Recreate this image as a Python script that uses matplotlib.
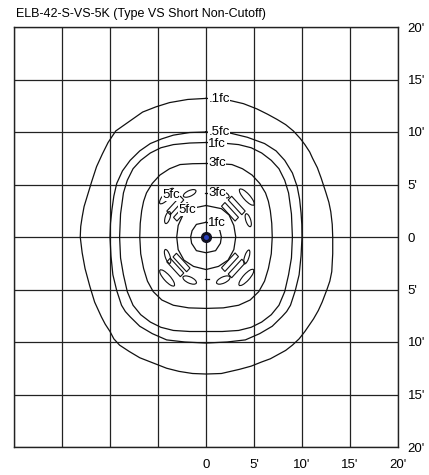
import matplotlib.pyplot as plt
from matplotlib.patches import Ellipse, Rectangle

plt.rcParams['font.family'] = ['Liberation Sans', 'DejaVu Sans']

TITLE = "ELB-42-S-VS-5K (Type VS Short Non-Cutoff)"

# isofootcandle lines, in feet from the pole (x to the right, y up the page)
fc01_x = [0, 1.3, 2.5, 3.9, 5.3, 6.4, 7.4, 8.3, 9.1, 9.8, 10.3, 10.8, 11.1, 11.6, 12.0, 12.5, 12.8, 13.0,
          13.15, 13.2, 13.2, 13.1, 12.9, 12.6, 12.1, 11.7, 11.2, 10.3, 9.7, 9.0, 8.3, 7.5, 6.7, 5.8, 4.7,
          3.5, 1.6, 0, -1.4, -2.8, -4.1, -5.5, -6.9, -8.0, -9.0, -9.6, -10.0, -10.5, -10.9, -11.6, -12.1,
          -12.6, -12.9, -13.1, -13.05, -12.9, -12.7, -12.4, -11.9, -11.4, -10.8, -10.2, -9.4, -8.0, -6.6,
          -5.2, -3.8, -1.9, 0]
fc01_y = [13.2, 13.15, 13.0, 12.7, 12.2, 11.7, 11.2, 10.7, 10.1, 9.4, 8.8, 8.1, 7.5, 6.6, 5.6, 4.2, 3.3,
          2.4, 1.2, 0, -1.6, -3.3, -4.2, -5.0, -6.2, -7.0, -7.8, -9.0, -9.7, -10.3, -10.8, -11.2, -11.6,
          -11.9, -12.3, -12.6, -13.0, -13.05, -13.0, -12.8, -12.5, -12.0, -11.5, -10.9, -10.3, -9.7, -9.0,
          -8.3, -7.6, -6.2, -4.7, -3.0, -1.5, 0, 1.0, 1.9, 2.9, 3.8, 5.3, 6.7, 7.9, 9.0, 10.1, 11.0, 11.9,
          12.4, 12.8, 13.1, 13.2]

fc05_x = [0, 1.3, 2.5, 4.3, 6.1, 7.3, 8.2, 9.0, 9.5, 9.75, 9.9, 9.98, 10.0, 9.9, 9.7, 9.3, 8.8, 8.4, 7.9,
          6.9, 5.6, 4.1, 2.2, 0, -2.2, -4.1, -5.6, -6.9, -7.9, -8.4, -8.8, -9.3, -9.7, -9.9, -10.0, -9.95,
          -9.8, -9.6, -9.3, -8.7, -7.9, -6.9, -5.8, -4.6, -3.4, -1.7, 0]
fc05_y = [10.0, 9.97, 9.9, 9.5, 8.9, 8.2, 7.3, 6.1, 4.8, 3.6, 2.3, 1.2, 0, -1.8, -3.6, -5.1, -6.5, -7.1,
          -7.6, -8.5, -9.2, -9.8, -10.0, -10.1, -10.0, -9.8, -9.2, -8.5, -7.6, -7.1, -6.5, -5.1, -3.6, -1.8,
          0, 1.3, 2.6, 3.9, 5.1, 6.3, 7.3, 8.2, 8.9, 9.35, 9.7, 9.95, 10.0]

fc1_x = [0, 1.7, 3.4, 4.7, 5.8, 6.8, 7.6, 8.2, 8.6, 8.9, 9.0, 8.9, 8.6, 8.2, 7.6, 6.8, 5.8, 4.7, 3.4, 1.7,
         0, -1.7, -3.4, -4.7, -5.8, -6.8, -7.6, -8.2, -8.6, -8.9, -9.0, -8.9, -8.6, -8.2, -7.6, -6.8,
         -5.8, -4.7, -3.4, -1.7, 0]
fc1_y = [9.0, 8.95, 8.8, 8.5, 8.0, 7.3, 6.5, 5.4, 4.2, 2.2, 0, -2.0, -3.6, -5.2, -6.5, -7.4, -8.1, -8.6,
         -8.9, -9.0, -9.0, -9.0, -8.9, -8.6, -8.1, -7.4, -6.5, -5.2, -3.6, -2.0, 0, 2.2, 4.2, 5.4, 6.5,
         7.3, 8.0, 8.5, 8.8, 8.95, 9.0]

fc3_x = [0, 1.4, 2.7, 3.8, 4.8, 5.6, 6.2, 6.5, 6.7, 6.85, 6.9, 6.8, 6.5, 6.1, 5.5, 4.6, 3.4, 1.8, 0, -1.8,
         -3.4, -4.6, -5.5, -6.1, -6.5, -6.8, -6.9, -6.85, -6.7, -6.5, -6.2, -5.6, -4.8, -3.8, -2.7, -1.4, 0]
fc3_y = [7.0, 6.98, 6.9, 6.5, 5.9, 5.1, 4.2, 3.4, 2.5, 1.3, 0, -1.6, -3.0, -4.2, -5.2, -6.0, -6.5, -6.75,
         -6.8, -6.75, -6.5, -6.0, -5.2, -4.2, -3.0, -1.6, 0, 1.3, 2.5, 3.4, 4.2, 5.1, 5.9, 6.5, 6.9, 6.98, 7.0]

# inner rings around the pole (illuminance drops again right under the luminaire)
ring3_x = [0, 1.6, 2.4, 2.9, 3.1, 2.9, 2.3, 1.3, 0, -1.3, -2.3, -2.9, -3.05, -2.9, -2.4, -1.6, 0]
ring3_y = [3.0, 2.7, 2.1, 1.1, 0, -1.2, -2.2, -2.8, -3.1, -2.8, -2.2, -1.2, 0, 1.1, 2.1, 2.7, 3.0]
ring1_x = [0, 1.0, 1.45, 1.6, 1.5, 1.0, 0, -1.0, -1.5, -1.6, -1.45, -1.0, 0]
ring1_y = [1.4, 1.2, 0.6, 0, -0.6, -1.3, -1.5, -1.3, -0.6, 0, 0.6, 1.2, 1.4]

# 5fc islands: centre x, centre y, length, thickness, angle (deg)
islands = [
    (1.7, 4.1, 1.5, 0.55, -22), (-1.7, 4.15, 1.4, 0.55, 22), (1.8, -4.1, 1.5, 0.6, 22), (-1.7, -4.1, 1.5, 0.6, -22),
    (4.25, 3.8, 2.1, 0.65, -45), (-4.1, 3.9, 2.0, 0.65, 45), (4.2, -3.85, 2.1, 0.65, 45), (-4.05, -3.9, 2.1, 0.65, -45),
    (4.4, 1.6, 1.3, 0.5, -70), (-4.0, 1.85, 1.2, 0.5, 70), (4.25, -1.9, 1.4, 0.45, 70), (-4.0, -1.85, 1.4, 0.5, -70),
]
bars = [
    (2.5, 2.4, 2.0, 0.5, -45), (3.2, 3.0, 2.0, 0.5, -45),
    (-2.5, 2.4, 2.0, 0.5, 45), (-3.2, 3.0, 2.0, 0.5, 45),
    (2.5, -2.4, 2.0, 0.5, 45), (3.2, -3.0, 2.0, 0.5, 45),
    (-2.55, -2.43, 2.0, 0.5, -45), (-3.2, -2.9, 2.0, 0.5, -45),
]
dash_y = [4.2, -4.0]

# labels: text, x, y
labels = [(".1fc", 0, 13.15), (".5fc", 0, 10.0), ("1fc", 0, 8.9), ("3fc", 0, 7.0),
          ("3fc", 0, 4.2), ("1fc", 0, 1.3), ("5fc", -4.8, 4.0), ("5fc", -3.1, 2.6)]

ticks = [0, 5, 10, 15, 20]
xtick_labels = ["0", "5'", "10'", "15'", "20'"]
yticks = [20, 15, 10, 5, 0, -5, -10, -15, -20]
ytick_labels = ["20'", "15'", "10'", "5'", "0", "5'", "10'", "15'", "20'"]

fig = plt.figure(figsize=(4.29, 4.75), dpi=100)
ax = fig.add_axes([14 / 429, 28 / 475, 384 / 429, 420 / 475])
ax.set_xlim(-20, 20)
ax.set_ylim(-20, 20)

for v in range(-20, 21, 5):
    ax.axvline(v, color='#222222', lw=0.9, zorder=1)
    ax.axhline(v, color='#222222', lw=0.9, zorder=1)

for xs, ys in [(fc01_x, fc01_y), (fc05_x, fc05_y), (fc1_x, fc1_y), (fc3_x, fc3_y),
               (ring3_x, ring3_y), (ring1_x, ring1_y)]:
    ax.plot(xs, ys, color='#111111', lw=0.9, zorder=2)

for cx, cy, ln, th, ang in islands:
    ax.add_patch(Ellipse((cx, cy), ln, th, angle=ang, fill=False, ec='#111111', lw=0.8, zorder=2))
for cx, cy, ln, th, ang in bars:
    ax.add_patch(Rectangle((cx - ln / 2, cy - th / 2), ln, th, angle=ang, rotation_point='center',
                           fill=False, ec='#111111', lw=0.8, zorder=2))
for y in dash_y:
    ax.plot([-0.1, 0.3], [y, y], color='#111111', lw=0.9, zorder=2)

for txt, x, y in labels:
    ax.text(x + 0.25, y, txt, fontsize=9.5, ha='left', va='center', zorder=3,
            bbox=dict(boxstyle='square,pad=0.02', fc='white', ec='none'))

# pole
ax.plot(0, 0, 'o', ms=7, color='#111122', zorder=4)
ax.plot(0, 0, 'o', ms=2.5, color='#2a40c0', zorder=5)

ax.set_xticks(ticks, xtick_labels)
ax.set_yticks(yticks, ytick_labels)
ax.yaxis.tick_right()
ax.tick_params(axis='x', length=0, pad=9, labelsize=9.5)
ax.tick_params(axis='y', length=0, pad=7, labelsize=9.5)
for s in ax.spines.values():
    s.set_color('#222222')
    s.set_linewidth(1)

fig.text(16 / 429, 1 - 14 / 475, TITLE, fontsize=9, ha='left', va='center')

fig.savefig('out.png', dpi=100)
